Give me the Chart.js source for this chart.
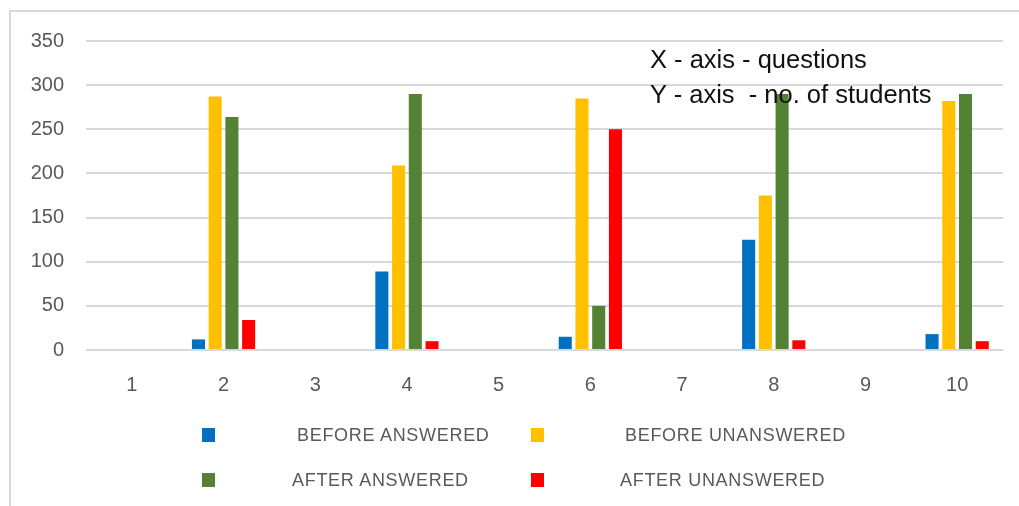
<!DOCTYPE html>
<html>
<head>
<meta charset="utf-8">
<script src="https://cdn.jsdelivr.net/npm/chart.js@4"></script>
<style>
  html, body { margin: 0; padding: 0; background: #fff; }
  #wrap { position: relative; width: 1019px; height: 506px; overflow: hidden; }
  #frame { position: absolute; left: 9px; top: 10px; width: 1100px; height: 600px;
           border-left: 2px solid #d9d9d9; border-top: 2px solid #d9d9d9; }
  canvas { position: absolute; left: 0; top: 0; }
  .note { position: absolute; left: 650px; font: 25.5px "Liberation Sans", Arial, sans-serif;
          line-height: 25.5px; color: #111; white-space: pre; }
  .lg-box { position: absolute; width: 13px; height: 14px; }
  .lg-text { position: absolute; font: 18px "Liberation Sans", Arial, sans-serif; line-height: 18px;
             color: #595959; letter-spacing: 0.7px; white-space: pre; }
</style>
</head>
<body>
<div id="wrap">
  <div id="frame"></div>
  <canvas id="myChart" width="1019" height="506"></canvas>
  <div class="note" style="top:47px">X - axis - questions</div>
  <div class="note" style="top:82px">Y - axis  - no. of students</div>
  <div id="legend"></div>
</div>
<script>
// データ
const categories = ['1', '2', '3', '4', '5', '6', '7', '8', '9', '10'];
const seriesNames = ['BEFORE ANSWERED', 'BEFORE UNANSWERED', 'AFTER ANSWERED', 'AFTER UNANSWERED'];
const seriesColors = ['#0070C0', '#FFC000', '#548235', '#FF0000'];

const beforeAnswered   = [0, 12, 0, 89, 0, 15, 0, 125, 0, 18];
const beforeUnanswered = [0, 287, 0, 209, 0, 285, 0, 175, 0, 282];
const afterAnswered    = [0, 264, 0, 290, 0, 50, 0, 290, 0, 290];
const afterUnanswered  = [0, 34, 0, 10, 0, 250, 0, 11, 0, 10];

const yTicks = [0, 50, 100, 150, 200, 250, 300, 350];

const seriesValues = [beforeAnswered, beforeUnanswered, afterAnswered, afterUnanswered];

const data = {
  labels: categories,
  datasets: seriesValues.map((vals, i) => ({
    label: seriesNames[i],
    data: vals,
    backgroundColor: seriesColors[i],
    borderWidth: 0,
    barPercentage: 0.78,
    categoryPercentage: 0.73
  }))
};

const tickFont = { family: 'Liberation Sans', size: 20 };

const config = {
  type: 'bar',
  data: data,
  options: {
    responsive: false,
    animation: false,
    layout: { padding: { top: 41, right: 16, left: 0, bottom: 0 } },
    plugins: { legend: { display: false }, tooltip: { enabled: false } },
    scales: {
      x: {
        grid: { display: false },
        border: { display: false },
        ticks: { color: '#595959', font: tickFont, padding: 15 },
        afterFit: (s) => { s.height = 156; }
      },
      y: {
        min: 0,
        max: 350,
        afterBuildTicks: (s) => { s.ticks = yTicks.map(v => ({ value: v })); },
        grid: { color: '#d9d9d9', lineWidth: 2, drawTicks: false },
        border: { display: false },
        ticks: { color: '#595959', font: tickFont, padding: 22 },
        afterFit: (s) => { s.width = 86; }
      }
    }
  }
};

const myChart = new Chart(document.getElementById('myChart'), config);

// 凡例（2行2列）
const legendPos = [
  { bx: 202, by: 428, tx: 297, ty: 426 },
  { bx: 531, by: 428, tx: 625, ty: 426 },
  { bx: 202, by: 473, tx: 292, ty: 471 },
  { bx: 531, by: 473, tx: 620, ty: 471 }
];
const legend = document.getElementById('legend');
seriesNames.forEach((name, i) => {
  const p = legendPos[i];
  const box = document.createElement('div');
  box.className = 'lg-box';
  box.style.left = p.bx + 'px';
  box.style.top = p.by + 'px';
  box.style.background = seriesColors[i];
  legend.appendChild(box);
  const txt = document.createElement('div');
  txt.className = 'lg-text';
  txt.style.left = p.tx + 'px';
  txt.style.top = p.ty + 'px';
  txt.textContent = name;
  legend.appendChild(txt);
});
</script>
</body>
</html>
